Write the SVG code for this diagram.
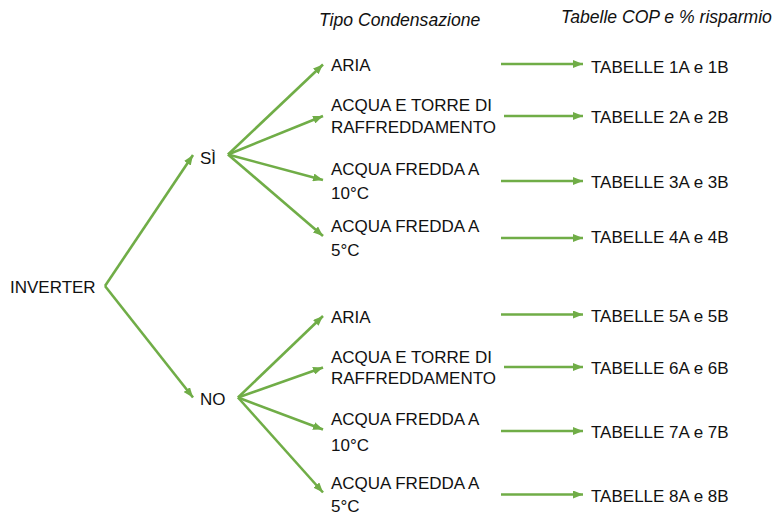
<svg xmlns="http://www.w3.org/2000/svg" width="774" height="515" viewBox="0 0 774 515">
<defs>
<style>
text{font-family:"Liberation Sans",Arial,sans-serif;font-size:17px;fill:#111}
.t{font-style:italic;font-size:17.6px}
.c line{stroke:#70AD47;stroke-width:2.6;fill:none;marker-end:url(#ah)}
</style>
<marker id="ah" viewBox="0 0 10 8" refX="10" refY="4" markerWidth="10" markerHeight="8" markerUnits="userSpaceOnUse" orient="auto">
<path d="M0,0L10,4L0,8z" fill="#70AD47"/>
</marker>
</defs>
<rect width="774" height="515" fill="#fff"/>
<g id="titles">
<text class="t" x="319" y="26">Tipo Condensazione</text>
<text class="t" x="561" y="23">Tabelle COP e % risparmio</text>
</g>
<g id="inverter"><text x="10" y="293">INVERTER</text></g>
<g id="si"><text x="200" y="163.5">SÌ</text></g>
<g id="no"><text x="200" y="405">NO</text></g>
<g id="si-aria"><text x="331" y="71">ARIA</text></g>
<g id="si-torre"><text x="331" y="111">ACQUA E TORRE DI</text><text x="331" y="133">RAFFREDDAMENTO</text></g>
<g id="si-10"><text x="331" y="175">ACQUA FREDDA A</text><text x="331" y="199">10°C</text></g>
<g id="si-5"><text x="331" y="231.5">ACQUA FREDDA A</text><text x="331" y="256">5°C</text></g>
<g id="no-aria"><text x="331" y="322.5">ARIA</text></g>
<g id="no-torre"><text x="331" y="362.5">ACQUA E TORRE DI</text><text x="331" y="384">RAFFREDDAMENTO</text></g>
<g id="no-10"><text x="331" y="425">ACQUA FREDDA A</text><text x="331" y="450.5">10°C</text></g>
<g id="no-5"><text x="331" y="489">ACQUA FREDDA A</text><text x="331" y="512">5°C</text></g>
<g id="tab1"><text x="591" y="73">TABELLE 1A e 1B</text></g>
<g id="tab2"><text x="591" y="123">TABELLE 2A e 2B</text></g>
<g id="tab3"><text x="591" y="188">TABELLE 3A e 3B</text></g>
<g id="tab4"><text x="591" y="243">TABELLE 4A e 4B</text></g>
<g id="tab5"><text x="591" y="322">TABELLE 5A e 5B</text></g>
<g id="tab6"><text x="591" y="374">TABELLE 6A e 6B</text></g>
<g id="tab7"><text x="591" y="437.5">TABELLE 7A e 7B</text></g>
<g id="tab8"><text x="591" y="501.5">TABELLE 8A e 8B</text></g>
<g id="connectors" class="c">
<line x1="105" y1="286" x2="193" y2="155"/>
<line x1="105" y1="286" x2="193" y2="397.5"/>
<line x1="228" y1="154.5" x2="323" y2="64.5"/>
<line x1="228" y1="154.5" x2="323" y2="116"/>
<line x1="228" y1="154.5" x2="323" y2="180"/>
<line x1="228" y1="154.5" x2="323" y2="236"/>
<line x1="238" y1="397.5" x2="323" y2="316"/>
<line x1="238" y1="397.5" x2="323" y2="367.5"/>
<line x1="238" y1="397.5" x2="323" y2="429.5"/>
<line x1="238" y1="397.5" x2="323" y2="492.5"/>
<line x1="501" y1="64" x2="583" y2="64"/>
<line x1="504" y1="116" x2="583" y2="116"/>
<line x1="501" y1="181" x2="583" y2="181"/>
<line x1="501" y1="238" x2="583" y2="238"/>
<line x1="501" y1="314.5" x2="583" y2="314.5"/>
<line x1="504" y1="367" x2="583" y2="367"/>
<line x1="501" y1="431" x2="583" y2="431"/>
<line x1="501" y1="494.5" x2="583" y2="494.5"/>
</g>
</svg>
